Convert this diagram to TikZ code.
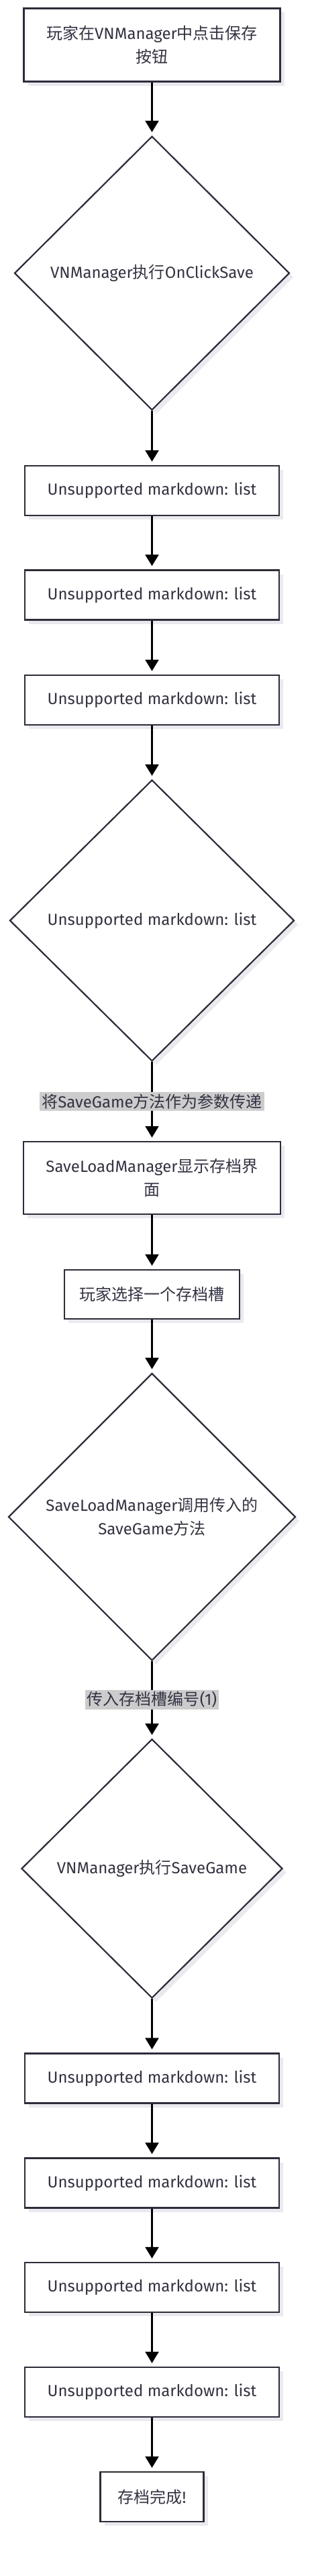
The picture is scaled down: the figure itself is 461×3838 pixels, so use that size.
\documentclass[tikz,border=0pt]{standalone}
\usepackage{fontspec}
\setmainfont{Fira Sans}
\newfontfamily\zhfont{Noto Sans CJK SC}
\newcommand{\zh}[1]{{\zhfont #1}}
\usetikzlibrary{shapes.geometric, arrows.meta, shadows}
\definecolor{svInk}{RGB}{51, 51, 68}
\definecolor{svLine}{RGB}{44, 44, 60}
\definecolor{svShade}{RGB}{234, 234, 238}
\definecolor{svTag}{RGB}{204, 204, 204}

\begin{document}
\begin{tikzpicture}[x=1pt, y=-1pt,
    every node/.style={font=\fontsize{24}{35}\selectfont, text=svInk, align=center},
    stepbox/.style={draw=svLine, line width=2.4pt, fill=white, inner sep=0pt,
      minimum width=379pt, minimum height=74pt,
      drop shadow={shadow xshift=6pt, shadow yshift=-6pt, fill=svShade, opacity=1}},
    choice/.style={diamond, draw=svLine, line width=2.2pt, fill=white, inner sep=0pt,
      drop shadow={shadow xshift=6pt, shadow yshift=-6pt, fill=svShade, opacity=1}},
    flow/.style={-{Triangle[width=20pt, length=17pt]}, line width=2.6pt, black, shorten >=5pt},
    tag/.style={fill=svTag, inner sep=3pt, font=\fontsize{24}{26}\selectfont}]

  % Frame
  \useasboundingbox (0,0) rectangle (461,3838);

  % Click and first check
  \node[stepbox, minimum width=382pt, minimum height=109pt] (click) at (226.5,67)
    {\zh{玩家在}VNManager\zh{中点击保存}\\\zh{按钮}};
  \node[choice, minimum width=410pt, minimum height=408pt] (onclick) at (226.5,407)
    {VNManager\zh{执行}OnClickSave};

  % List steps
  \node[stepbox] (listA) at (226.5,731) {Unsupported markdown: list};
  \node[stepbox] (listB) at (226.5,886.5) {Unsupported markdown: list};
  \node[stepbox] (listC) at (226.5,1043) {Unsupported markdown: list};
  \node[choice, minimum width=424pt, minimum height=419pt] (listD) at (226.5,1371.5)
    {Unsupported markdown: list};

  % Save panel
  \node[stepbox, minimum width=383pt, minimum height=108pt] (panel) at (226.5,1755)
    {SaveLoadManager\zh{显示存档界}\\\zh{面}};
  \node[stepbox, minimum width=261pt, minimum height=73pt] (slot) at (226.5,1928.5)
    {\zh{玩家选择一个存档槽}};
  \node[choice, minimum width=428pt, minimum height=428pt] (invoke) at (226.5,2260)
    {SaveLoadManager\zh{调用传入的}\\SaveGame\zh{方法}};
  \node[choice, minimum width=389pt, minimum height=386pt] (savegame) at (226.5,2784)
    {VNManager\zh{执行}SaveGame};

  % Writing steps
  \foreach \y/\n in {3096.5/listE, 3252.5/listF, 3408/listG, 3564/listH}
    \node[stepbox] (\n) at (226.5,\y) {Unsupported markdown: list};
  \node[stepbox, minimum width=154pt] (done) at (226.5,3720) {\zh{存档完成}!};

  % Arrows
  \foreach \a/\b in {click/onclick, onclick/listA, listA/listB, listB/listC, listC/listD,
      panel/slot, slot/invoke, savegame/listE, listE/listF, listF/listG, listG/listH, listH/done}
    \draw[flow] (\a) -- (\b);
  \draw[flow] (listD) -- node[tag] {\zh{将}SaveGame\zh{方法作为参数传递}} (panel);
  \draw[flow] (invoke) -- node[tag] {\zh{传入存档槽编号}(1)} (savegame);
\end{tikzpicture}
\end{document}
